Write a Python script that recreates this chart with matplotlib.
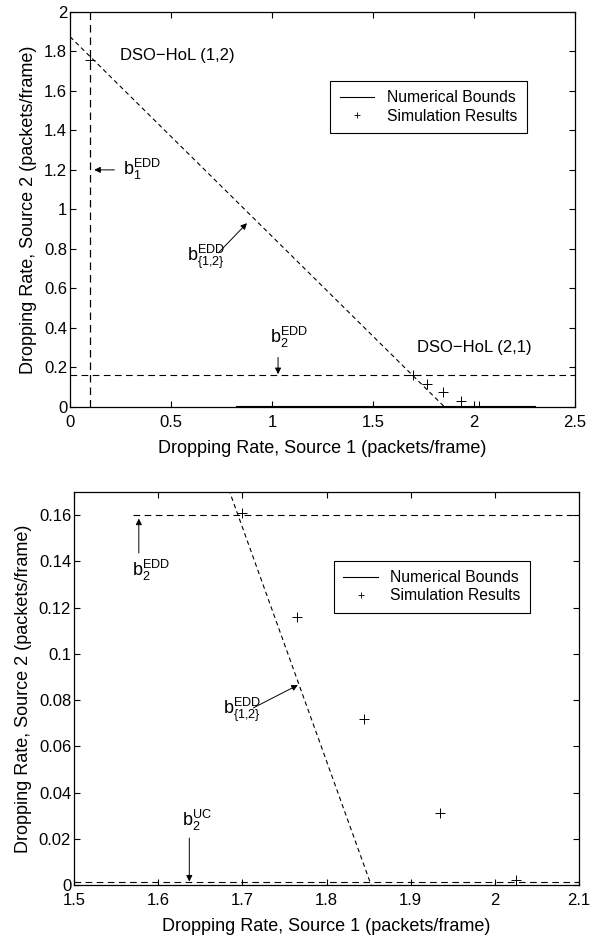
import matplotlib
matplotlib.use("Agg")
import matplotlib.pyplot as plt
from matplotlib.lines import Line2D
from matplotlib.ticker import FormatStrFormatter

plt.rcParams['font.family'] = ['Liberation Sans', 'DejaVu Sans']
plt.rcParams['mathtext.fontset'] = 'custom'
plt.rcParams['mathtext.rm'] = 'Liberation Sans'
plt.rcParams['mathtext.it'] = 'Liberation Sans'

# bounds
b1_edd_x = 0.1
b2_edd_y = 0.16
b2_uc_y = 0.0012
b12_x = [0.0, 1.853]
b12_y = [1.875, 0.0]
num_x = [0.82, 2.3]
num_y = [0.002, 0.002]

# simulation results
sim_x = [0.1, 1.70, 1.765, 1.845, 1.935, 2.025]
sim_y = [1.757, 0.161, 0.116, 0.072, 0.031, 0.002]

top_xticks = [0, 0.5, 1, 1.5, 2, 2.5]
top_yticks = [0, 0.2, 0.4, 0.6, 0.8, 1, 1.2, 1.4, 1.6, 1.8, 2]
bot_xticks = [1.5, 1.6, 1.7, 1.8, 1.9, 2, 2.1]
bot_yticks = [0, 0.02, 0.04, 0.06, 0.08, 0.1, 0.12, 0.14, 0.16]

fig = plt.figure(figsize=(5.96, 9.36), dpi=100)
W, H = 596, 936
ax1 = fig.add_axes([70 / W, 1 - 406.7 / H, 505 / W, 394.7 / H])
ax2 = fig.add_axes([74 / W, 1 - 885 / H, 505 / W, 393 / H])

dash = (0, (6, 4))
fs = 12

def style(ax, xt, yt):
    ax.set_xticks(xt)
    ax.set_yticks(yt)
    ax.xaxis.set_major_formatter(FormatStrFormatter('%g'))
    ax.yaxis.set_major_formatter(FormatStrFormatter('%g'))
    ax.tick_params(direction='in', top=True, right=True, length=4, labelsize=fs, width=0.8)
    ax.tick_params(axis='x', pad=6)
    ax.tick_params(axis='y', pad=2)
    for s in ax.spines.values():
        s.set_linewidth(0.9)
    ax.set_xlabel('Dropping Rate, Source 1 (packets/frame)', fontsize=13, labelpad=7)
    ax.set_ylabel('Dropping Rate, Source 2 (packets/frame)', fontsize=13, labelpad=5)

def add_legend(ax, x0, y0):
    handles = [Line2D([], [], color='k', lw=0.8),
               Line2D([], [], color='k', ls='none', marker='+', ms=5, mew=0.6)]
    leg = ax.legend(handles, ['Numerical Bounds', 'Simulation Results'],
                    loc='upper left', bbox_to_anchor=(x0, y0), fontsize=11.3,
                    fancybox=False, edgecolor='k', framealpha=1,
                    handlelength=2.2, borderpad=0.6, labelspacing=0.2)
    leg.get_frame().set_linewidth(0.8)

arrow = dict(arrowstyle='-|>', color='k', lw=0.7, mutation_scale=9, shrinkA=0, shrinkB=0)
b1_lbl = r'b$_1^{\rm EDD}$'
b12_lbl = r'b$_{\{1{,}2\}}^{\rm EDD}$'
b2_lbl = r'b$_2^{\rm EDD}$'
b2uc_lbl = r'b$_2^{\rm UC}$'

# ---- top panel ----
ax1.plot([b1_edd_x, b1_edd_x], [0, 2], color='k', ls=dash, lw=0.9)
ax1.plot(b12_x, b12_y, color='k', ls=(0, (4, 3)), lw=0.8)
ax1.plot([0, 2.5], [b2_edd_y, b2_edd_y], color='k', ls=dash, lw=0.8)
ax1.plot(num_x, num_y, color='k', lw=0.8)
ax1.plot([0, b1_edd_x], [2, 2], color='k', ls=':', lw=0.8)
ax1.plot(sim_x, sim_y, 'k+', ms=7, mew=0.7)
ax1.set_xlim(0, 2.5)
ax1.set_ylim(0, 2)
style(ax1, top_xticks, top_yticks)

ax1.text(0.247, 1.78, 'DSO\u2212HoL (1,2)', fontsize=12, va='center')
ax1.text(1.72, 0.30, 'DSO\u2212HoL (2,1)', fontsize=12, va='center')
ax1.annotate('', xy=(0.12, 1.2), xytext=(0.22, 1.2), arrowprops=arrow)
ax1.text(0.26, 1.2, b1_lbl, fontsize=13, va='center')
ax1.annotate('', xy=(0.876, 0.93), xytext=(0.735, 0.78), arrowprops=arrow)
ax1.text(0.58, 0.76, b12_lbl, fontsize=13, va='center')
ax1.annotate('', xy=(1.03, 0.165), xytext=(1.03, 0.25), arrowprops=arrow)
ax1.text(0.99, 0.35, b2_lbl, fontsize=13, va='center')
add_legend(ax1, 0.50, 0.845)

# ---- bottom panel ----
ax2.plot([1.57, 2.1], [b2_edd_y, b2_edd_y], color='k', ls=dash, lw=0.8)
ax2.plot(b12_x, b12_y, color='k', ls=(0, (4, 3)), lw=0.8)
ax2.plot([1.5, 2.1], [b2_uc_y, b2_uc_y], color='k', ls=dash, lw=0.8)
ax2.plot(sim_x, sim_y, 'k+', ms=7, mew=0.7)
ax2.set_xlim(1.5, 2.1)
ax2.set_ylim(0, 0.17)
style(ax2, bot_xticks, bot_yticks)

ax2.annotate('', xy=(1.577, 0.1585), xytext=(1.577, 0.1436), arrowprops=arrow)
ax2.text(1.569, 0.136, b2_lbl, fontsize=13, va='center')
ax2.annotate('', xy=(1.766, 0.0865), xytext=(1.713, 0.0766), arrowprops=arrow)
ax2.text(1.677, 0.0757, b12_lbl, fontsize=13, va='center')
ax2.annotate('', xy=(1.637, 0.0015), xytext=(1.637, 0.0203), arrowprops=arrow)
ax2.text(1.628, 0.028, b2uc_lbl, fontsize=13, va='center')
add_legend(ax2, 0.499, 0.845)

fig.savefig('out.png', dpi=100)
